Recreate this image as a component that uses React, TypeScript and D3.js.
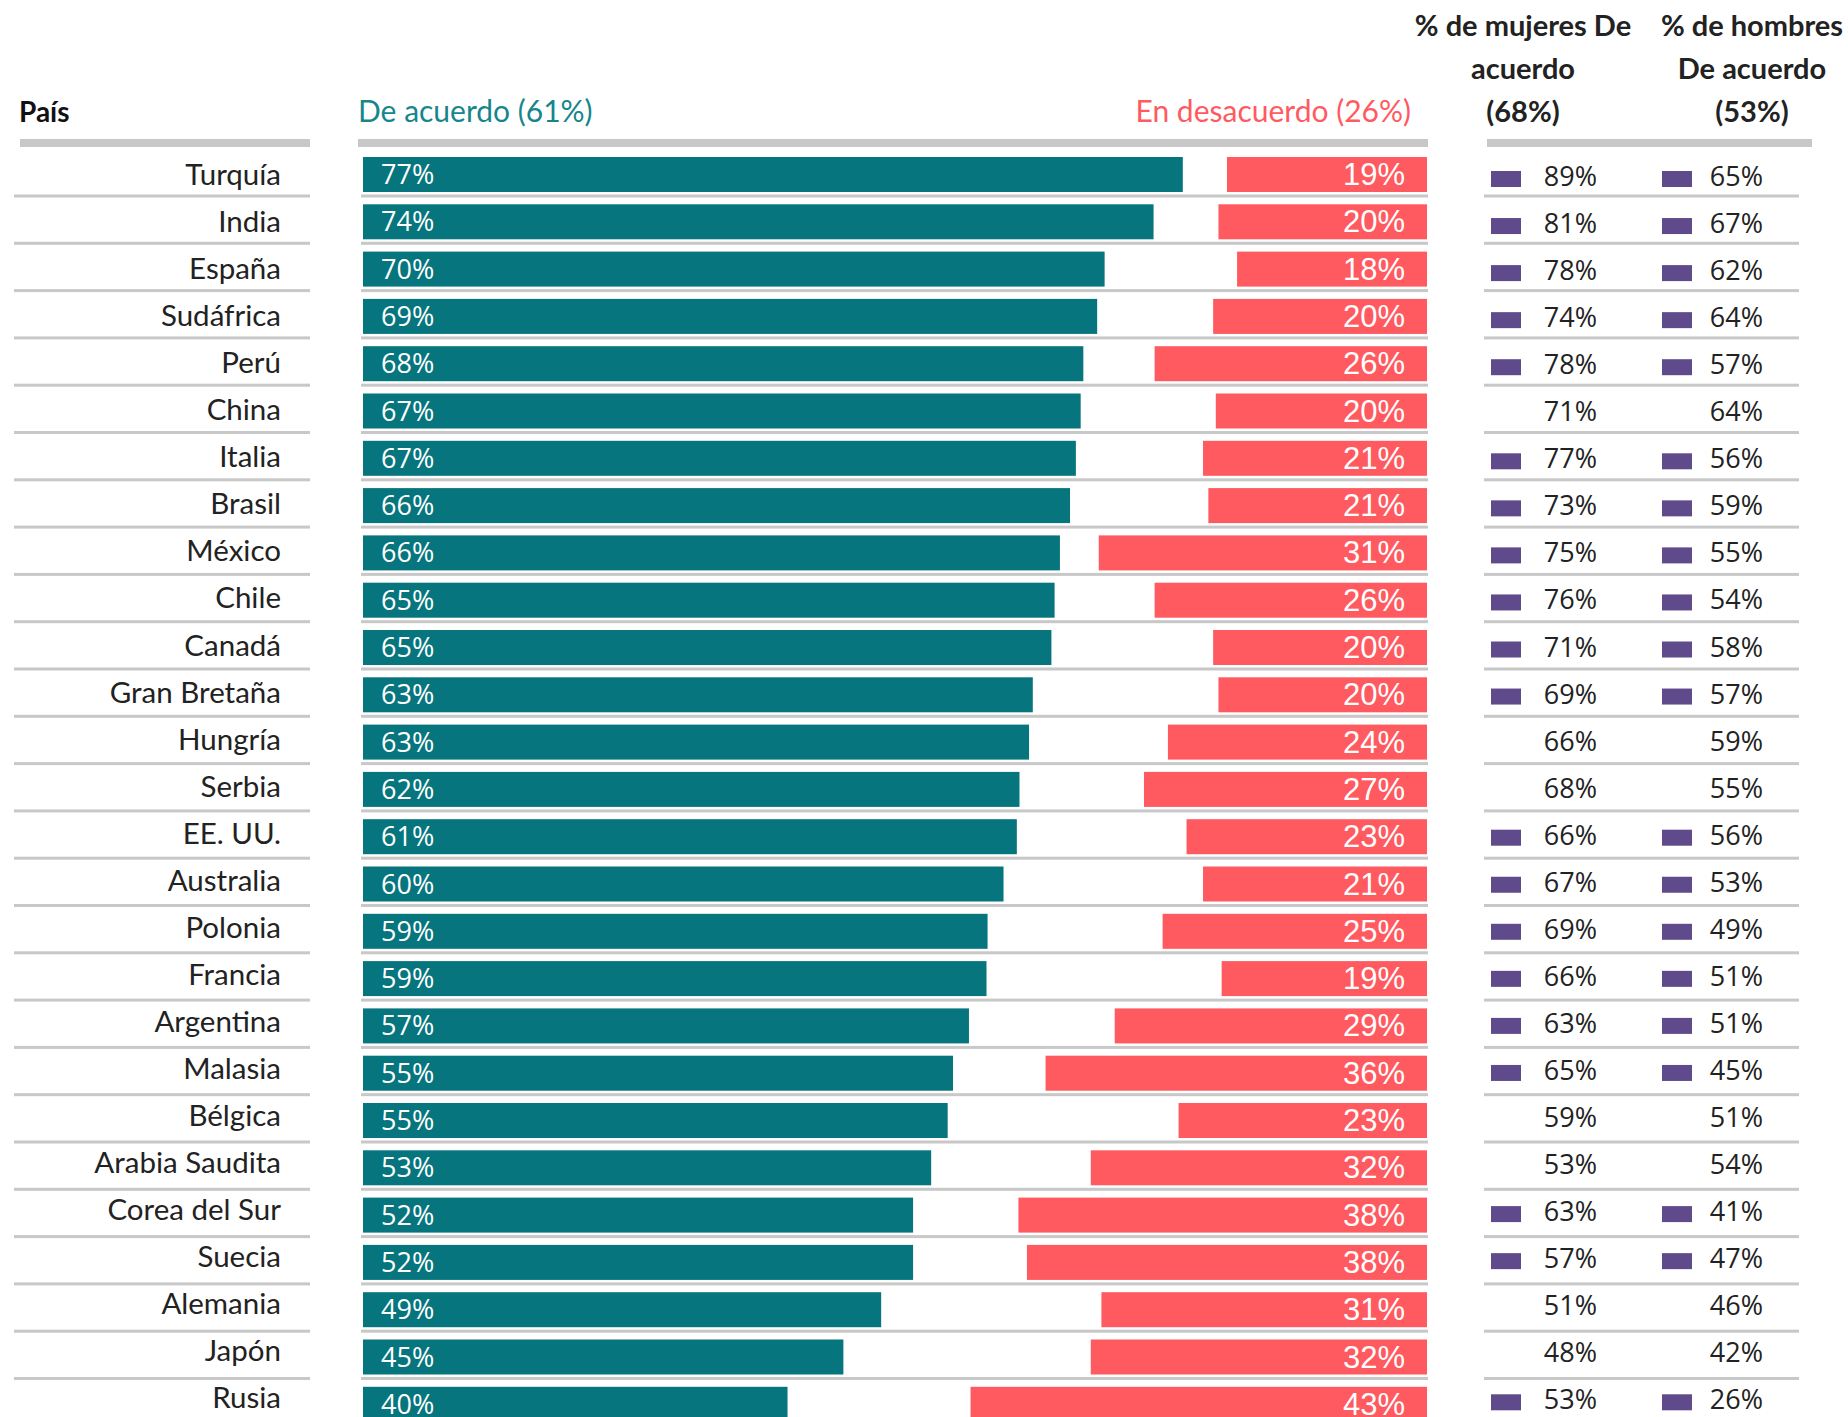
import * as d3 from "d3";
import { useRef, useEffect } from "react";

// Data
const countries = [
  "Turquía", "India", "España", "Sudáfrica", "Perú", "China", "Italia", "Brasil", "México",
  "Chile", "Canadá", "Gran Bretaña", "Hungría", "Serbia", "EE. UU.", "Australia", "Polonia",
  "Francia", "Argentina", "Malasia", "Bélgica", "Arabia Saudita", "Corea del Sur", "Suecia",
  "Alemania", "Japón", "Rusia",
];
const agree = [
  77.05, 74.3, 69.7, 69.0, 67.7, 67.45, 67.0, 66.45, 65.5, 65.0, 64.7, 62.95, 62.6, 61.7,
  61.45, 60.2, 58.7, 58.6, 56.95, 55.45, 54.95, 53.4, 51.7, 51.7, 48.7, 45.15, 39.9,
];
const disagree = [
  18.8, 19.6, 17.85, 20.1, 25.6, 19.85, 21.05, 20.55, 30.85, 25.6, 20.1, 19.6, 24.35, 26.6,
  22.6, 21.05, 24.85, 19.3, 29.35, 35.85, 23.35, 31.6, 38.4, 37.6, 30.6, 31.6, 42.9,
];
const women = [89, 81, 78, 74, 78, 71, 77, 73, 75, 76, 71, 69, 66, 68, 66, 67, 69, 66, 63, 65, 59, 53, 63, 57, 51, 48, 53];
const men = [65, 67, 62, 64, 57, 64, 56, 59, 55, 54, 58, 57, 59, 55, 56, 53, 49, 51, 51, 45, 51, 54, 41, 47, 46, 42, 26];
const significant = [
  true, true, true, true, true, false, true, true, true, true, true, true, false, false,
  true, true, true, true, true, true, false, false, true, true, false, false, true,
];
const headers = {
  country: "País",
  agree: "De acuerdo (61%)",
  disagree: "En desacuerdo (26%)",
  women: ["% de mujeres De", "acuerdo", "(68%)"],
  men: ["% de hombres", "De acuerdo", "(53%)"],
};

const TEAL = "#06757d";
const RED = "#ff5a5f";
const PURPLE = "#5f4b8b";
const GRAY = "#c8c8c8";
const INK = "#222222";

export default function App({ width = 1848, height = 1417 }) {
  const svgRef = useRef(null);

  useEffect(() => {
    const svg = d3.select(svgRef.current);
    svg.selectAll("*").remove();

    const rowStep = 47.3;
    const barH = 35;
    const firstTop = 157;

    // bars / rules
    const y = d3
      .scaleBand()
      .domain(countries)
      .range([firstTop, firstTop + rowStep * (countries.length - 0.26)])
      .paddingInner(0.26)
      .paddingOuter(0);

    // table text rows run on a slightly tighter pitch than the bars
    const yText = d3
      .scalePoint()
      .domain(countries)
      .range([185, 185 + 47.05 * (countries.length - 1)]);

    const x = d3.scaleLinear().domain([0, 100]).range([363, 1427]);

    const rows = countries.map((c, i) => ({
      country: c,
      agree: agree[i],
      disagree: disagree[i],
      women: women[i],
      men: men[i],
      sig: significant[i],
    }));

    // Header rules
    const headerRules = [
      [20, 310],
      [358, 1428],
      [1487, 1812],
    ];
    svg
      .selectAll(".hrule")
      .data(headerRules)
      .join("rect")
      .attr("x", (d) => d[0])
      .attr("y", 139)
      .attr("width", (d) => d[1] - d[0])
      .attr("height", 8)
      .attr("fill", GRAY);

    // Header texts
    svg
      .append("text")
      .attr("x", 19)
      .attr("y", 122)
      .attr("font-family", "Lato")
      .attr("font-weight", 700)
      .attr("font-size", 28)
      .attr("fill", "#111")
      .text(headers.country);

    svg
      .append("text")
      .attr("x", 358)
      .attr("y", 122)
      .attr("font-family", "Lato")
      .attr("font-size", 30)
      .attr("fill", "#16868c")
      .text(headers.agree);

    svg
      .append("text")
      .attr("x", 1411)
      .attr("y", 122)
      .attr("text-anchor", "end")
      .attr("font-family", "Lato")
      .attr("font-size", 30)
      .attr("fill", RED)
      .text(headers.disagree);

    const colHeads = [
      { cx: 1523, lines: headers.women },
      { cx: 1752, lines: headers.men },
    ];
    colHeads.forEach((h) => {
      svg
        .append("g")
        .selectAll("text")
        .data(h.lines)
        .join("text")
        .attr("x", h.cx)
        .attr("y", (d, i) => 36 + i * 43)
        .attr("text-anchor", "middle")
        .attr("font-family", "Lato")
        .attr("font-weight", 700)
        .attr("font-size", 29)
        .attr("fill", INK)
        .text((d) => d);
    });

    // Row separators
    const sepSpans = [
      [14, 310],
      [361, 1428],
      [1484, 1799],
    ];
    const g = svg.append("g");
    rows.forEach((d) => {
      const top = y(d.country);
      sepSpans.forEach((s) => {
        g.append("rect")
          .attr("x", s[0])
          .attr("y", top + barH + 2.5)
          .attr("width", s[1] - s[0])
          .attr("height", 3)
          .attr("fill", GRAY);
      });
    });

    // Country labels
    svg
      .append("g")
      .selectAll("text")
      .data(rows)
      .join("text")
      .attr("x", 281)
      .attr("y", (d) => yText(d.country))
      .attr("text-anchor", "end")
      .attr("font-family", "Lato")
      .attr("font-size", 29.5)
      .attr("fill", INK)
      .text((d) => d.country);

    // Agree bars
    svg
      .append("g")
      .selectAll("rect")
      .data(rows)
      .join("rect")
      .attr("x", x(0))
      .attr("y", (d) => y(d.country))
      .attr("width", (d) => x(d.agree) - x(0))
      .attr("height", y.bandwidth())
      .attr("fill", TEAL);

    // Disagree bars, right-aligned at 100%
    svg
      .append("g")
      .selectAll("rect")
      .data(rows)
      .join("rect")
      .attr("x", (d) => x(100 - d.disagree))
      .attr("y", (d) => y(d.country))
      .attr("width", (d) => x(100) - x(100 - d.disagree))
      .attr("height", y.bandwidth())
      .attr("fill", RED);

    // Bar labels
    svg
      .append("g")
      .selectAll("text")
      .data(rows)
      .join("text")
      .attr("x", x(0) + 18)
      .attr("y", (d) => y(d.country) + 27)
      .attr("font-family", "Open Sans")
      .attr("font-size", 27)
      .attr("fill", "#fff")
      .text((d) => `${Math.round(d.agree)}%`);

    svg
      .append("g")
      .selectAll("text")
      .data(rows)
      .join("text")
      .attr("x", x(100) - 22)
      .attr("y", (d) => y(d.country) + 28)
      .attr("text-anchor", "end")
      .attr("font-family", "Liberation Sans")
      .attr("font-size", 31)
      .attr("fill", "#fff")
      .text((d) => `${Math.round(d.disagree)}%`);

    // Women / men columns
    const cols = [
      { key: "women", sqX: 1491, textX: 1597 },
      { key: "men", sqX: 1662, textX: 1763 },
    ];
    cols.forEach((c) => {
      const cg = svg.append("g");
      cg.selectAll("rect")
        .data(rows.filter((d) => d.sig))
        .join("rect")
        .attr("x", c.sqX)
        .attr("y", (d) => yText(d.country) - 14)
        .attr("width", 30)
        .attr("height", 16)
        .attr("fill", PURPLE);
      cg.selectAll("text")
        .data(rows)
        .join("text")
        .attr("x", c.textX)
        .attr("y", (d) => yText(d.country) + 1)
        .attr("text-anchor", "end")
        .attr("font-family", "Open Sans")
        .attr("font-size", 27)
        .attr("fill", INK)
        .text((d) => `${d[c.key]}%`);
    });
  }, [width, height]);

  return (
    <div style={{ position: "absolute", left: 0, top: 0 }}>
      <svg ref={svgRef} width={width} height={height} style={{ display: "block", background: "#fff" }}></svg>
    </div>
  );
}
